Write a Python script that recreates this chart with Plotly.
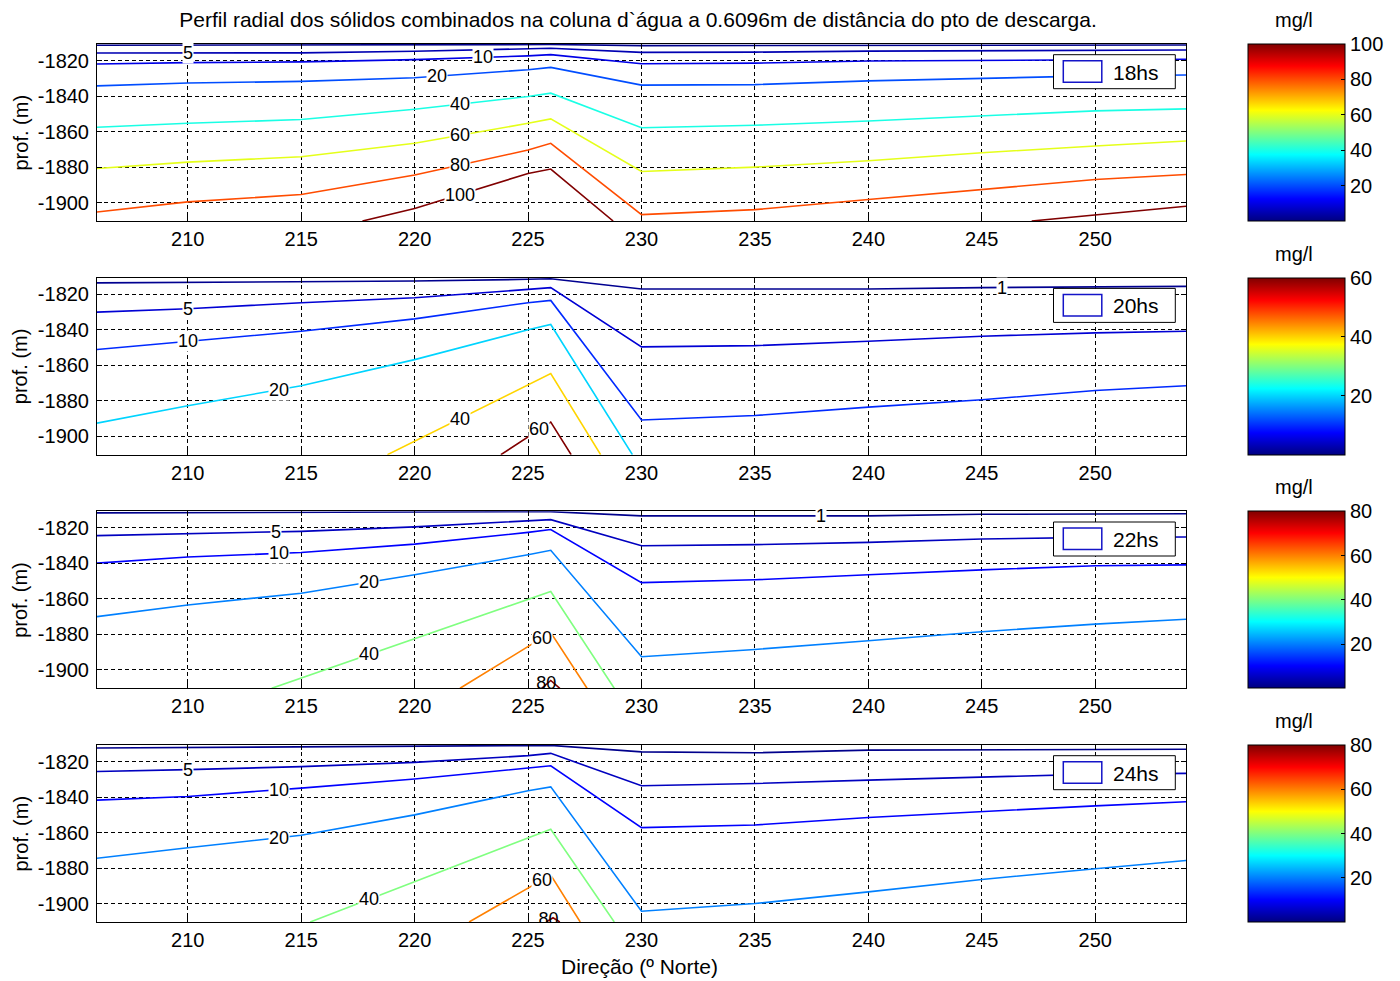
import plotly.graph_objects as go

W, H = 1400, 981
FONT = "Liberation Sans, Arial, sans-serif"
FS = 20
FS_LBL = 18
FS_TITLE = 21

# ---------------- data: depth (m) of each isoline (mg/l) vs direction (deg N) -------------
DIR = [206, 210, 215, 220, 225, 226, 230, 235, 240, 245, 250, 254]

# 18hs
H18_C1 = [-1811.3, -1811.2, -1811.1, -1811.0, -1810.9, -1810.9, -1811.5, -1811.5, -1811.4, -1811.3, -1811.2, -1811.2]
H18_C5 = [-1815.7, -1815.7, -1815.6, -1814.7, -1813.4, -1813.0, -1815.3, -1815.2, -1814.6, -1814.3, -1814.1, -1814.0]
H18_C10 = [-1821.9, -1821.1, -1820.7, -1819.4, -1817.3, -1816.6, -1821.7, -1821.4, -1820.2, -1819.9, -1819.6, -1819.2]
H18_C20 = [-1834.2, -1832.6, -1831.7, -1829.6, -1825.1, -1823.8, -1833.8, -1833.5, -1831.4, -1829.9, -1828.6, -1828.1]
H18_C40 = [-1857.5, -1855.3, -1853.2, -1847.4, -1840.2, -1838.3, -1857.8, -1856.4, -1854.0, -1851.1, -1848.3, -1847.2]
H18_C60 = [-1880.8, -1877.2, -1874.2, -1866.6, -1855.3, -1852.8, -1882.5, -1880.0, -1876.4, -1871.9, -1868.1, -1865.3]
H18_C80 = [-1905.3, -1899.6, -1895.5, -1884.5, -1870.4, -1866.6, -1906.8, -1904.0, -1898.3, -1892.6, -1887.0, -1884.2]
H18_C100_X = [217.7, 220, 225, 226, 228.75, None, 247.2, 254]
H18_C100 = [-1910.4, -1903.4, -1883.6, -1881.1, -1910.4, None, -1910.4, -1902.1]

# 20hs
H20_C1 = [-1813.5, -1813.3, -1813.0, -1812.5, -1811.5, -1811.2, -1817.0, -1817.0, -1817.0, -1816.2, -1815.8, -1815.5]
H20_C5 = [-1830.0, -1828.1, -1824.7, -1821.9, -1817.2, -1816.2, -1849.6, -1848.9, -1846.4, -1843.6, -1841.7, -1840.8]
H20_C10 = [-1851.1, -1846.4, -1840.8, -1833.8, -1824.7, -1823.4, -1890.8, -1888.3, -1883.6, -1879.4, -1874.2, -1871.5]
H20_C20_X = [206, 210, 215, 220, 225, 226, 229.6]
H20_C20 = [-1892.6, -1882.8, -1871.5, -1856.8, -1840.0, -1837.0, -1910.4]
H20_C40_X = [218.8, 226, 228.2]
H20_C40 = [-1910.4, -1864.7, -1910.4]
H20_C60_X = [223.8, 226, 226.9]
H20_C60 = [-1910.4, -1892.0, -1910.4]

# 22hs
H22_C1 = [-1811.5, -1811.3, -1811.0, -1810.9, -1810.8, -1810.8, -1813.2, -1813.2, -1813.2, -1812.3, -1812.1, -1812.0]
H22_C5 = [-1824.3, -1823.2, -1821.9, -1819.4, -1816.2, -1815.3, -1830.0, -1829.4, -1828.1, -1826.2, -1825.3, -1825.1]
H22_C10 = [-1839.8, -1836.4, -1833.8, -1829.1, -1822.5, -1820.9, -1850.8, -1849.2, -1846.4, -1843.6, -1841.3, -1840.8]
H22_C20 = [-1870.0, -1863.4, -1856.8, -1846.4, -1835.1, -1832.6, -1892.6, -1888.5, -1883.6, -1878.5, -1874.2, -1871.5]
H22_C40_X = [213.7, 226, 228.8]
H22_C40 = [-1910.4, -1855.8, -1910.4]
H22_C60_X = [222.0, 226, 227.6]
H22_C60 = [-1910.4, -1879.0, -1910.4]
H22_C80_X = [225.6, 226.0, 226.4]
H22_C80 = [-1910.4, -1906.0, -1910.4]

# 24hs
H24_C1 = [-1812.3, -1812.0, -1811.5, -1811.0, -1810.8, -1810.8, -1814.5, -1815.0, -1813.5, -1813.2, -1813.0, -1813.0]
H24_C5 = [-1825.5, -1824.5, -1822.8, -1820.4, -1816.6, -1815.3, -1833.6, -1832.3, -1830.4, -1828.5, -1827.0, -1826.6]
H24_C10 = [-1841.7, -1839.6, -1834.9, -1829.8, -1823.6, -1822.3, -1857.2, -1855.7, -1851.5, -1848.1, -1844.9, -1842.6]
H24_C20 = [-1874.5, -1868.5, -1861.5, -1850.0, -1836.4, -1834.2, -1904.3, -1900.0, -1893.4, -1886.4, -1880.4, -1875.7]
H24_C40_X = [215.4, 226, 228.8]
H24_C40 = [-1910.4, -1858.1, -1910.4]
H24_C60_X = [222.4, 226, 227.3]
H24_C60 = [-1910.4, -1884.0, -1910.4]
H24_C80_X = [225.8, 226.1, 226.4]
H24_C80 = [-1910.4, -1908.0, -1910.4]

HOURS = ["18hs", "20hs", "22hs", "24hs"]
CMAX = [100, 60, 80, 80]
X_TICKS = [210, 215, 220, 225, 230, 235, 240, 245, 250]
Y_TICKS = [-1820, -1840, -1860, -1880, -1900]
Y_TICKTEXT = ["-1820", "-1840", "-1860", "-1880", "-1900"]

LINES = [
    [(1, DIR, H18_C1), (5, DIR, H18_C5), (10, DIR, H18_C10), (20, DIR, H18_C20),
     (40, DIR, H18_C40), (60, DIR, H18_C60), (80, DIR, H18_C80), (100, H18_C100_X, H18_C100)],
    [(1, DIR, H20_C1), (5, DIR, H20_C5), (10, DIR, H20_C10), (20, H20_C20_X, H20_C20),
     (40, H20_C40_X, H20_C40), (60, H20_C60_X, H20_C60)],
    [(1, DIR, H22_C1), (5, DIR, H22_C5), (10, DIR, H22_C10), (20, DIR, H22_C20),
     (40, H22_C40_X, H22_C40), (60, H22_C60_X, H22_C60), (80, H22_C80_X, H22_C80)],
    [(1, DIR, H24_C1), (5, DIR, H24_C5), (10, DIR, H24_C10), (20, DIR, H24_C20),
     (40, H24_C40_X, H24_C40), (60, H24_C60_X, H24_C60), (80, H24_C80_X, H24_C80)],
]

# label placement (direction where each inline label sits)
LABELS = [
    [(5, 210.0), (10, 223.0), (20, 221.0), (40, 222.0), (60, 222.0), (80, 222.0), (100, 222.0)],
    [(1, 245.9), (5, 210.0), (10, 210.0), (20, 214.0), (40, 222.0), (60, 225.5)],
    [(1, 237.9), (5, 213.9), (10, 214.0), (20, 218.0), (40, 218.0), (60, 225.6)],
    [(5, 210.0), (10, 214.0), (20, 214.0), (40, 218.0), (60, 225.6)],
]
CLIPPED_LABELS = [[], [], [(80, 225.8)], [(80, 225.9)]]

# ---------------- layout geometry (pixels) ----------------
PLOT_X0, PLOT_X1 = 97, 1186
PANEL_TOP = [44, 277.7, 511.3, 745]
PANEL_H = 177
Y_RANGE = [-1910.4, -1810.6]
X_RANGE = [206, 254]
CB_X0, CB_W = 1248, 97

JET = [[0, "rgb(0,0,128)"], [0.125, "rgb(0,0,255)"], [0.375, "rgb(0,255,255)"],
       [0.625, "rgb(255,255,0)"], [0.875, "rgb(255,0,0)"], [1, "rgb(128,0,0)"]]


def jet(t):
    c = lambda v: max(0.0, min(1.0, v))
    r = c(1.5 - abs(4 * t - 3)); g = c(1.5 - abs(4 * t - 2)); b = c(1.5 - abs(4 * t - 1))
    return "rgb(%d,%d,%d)" % (round(r * 255), round(g * 255), round(b * 255))


def y_on(xs, zs, xq):
    for i in range(len(xs) - 1):
        a, b = xs[i], xs[i + 1]
        if a is None or b is None:
            continue
        if a <= xq <= b:
            f = (xq - a) / (b - a) if b != a else 0
            return zs[i] + f * (zs[i + 1] - zs[i])
    return None


def px(x):
    return x / W


def py(y):
    return 1 - y / H


fig = go.Figure()
annotations = []
shapes = []
layout = {}

for p in range(4):
    s = "" if p == 0 else str(p + 1)
    xa, ya = "x" + s, "y" + s
    top = PANEL_TOP[p]
    cmax = CMAX[p]
    for (lev, xs, zs) in LINES[p]:
        fig.add_trace(go.Scatter(x=xs, y=zs, mode="lines", xaxis=xa, yaxis=ya,
                                 line=dict(color=jet(lev / cmax), width=1.6),
                                 hoverinfo="skip", showlegend=False))
    lines_by_level = {lev: (xs, zs) for (lev, xs, zs) in LINES[p]}
    for (lev, xq) in LABELS[p]:
        xs, zs = lines_by_level[lev]
        annotations.append(dict(x=xq, y=y_on(xs, zs, xq), xref=xa, yref=ya, text=str(lev),
                                showarrow=False, bgcolor="white", borderpad=0,
                                font=dict(family=FONT, size=FS_LBL, color="black")))
    for (lev, xq) in CLIPPED_LABELS[p]:
        xs, zs = lines_by_level[lev]
        fig.add_trace(go.Scatter(x=[xq], y=[y_on(xs, zs, xq)], mode="text", text=[str(lev)],
                                 textfont=dict(family=FONT, size=FS_LBL, color="black"),
                                 cliponaxis=True, xaxis=xa, yaxis=ya,
                                 hoverinfo="skip", showlegend=False))
    # colour bar
    cb_ticks = [v for v in (20, 40, 60, 80, 100) if v <= cmax]
    fig.add_trace(go.Scatter(
        x=[230, 230], y=[-1850, -1850], mode="markers", xaxis=xa, yaxis=ya,
        marker=dict(color=[0, cmax], cmin=0, cmax=cmax, colorscale=JET, opacity=0, size=1,
                    showscale=True,
                    colorbar=dict(x=px(CB_X0), xanchor="left", xpad=0,
                                  y=py(top + PANEL_H / 2), yanchor="middle", ypad=0,
                                  len=PANEL_H / H, lenmode="fraction",
                                  thickness=CB_W, thicknessmode="pixels",
                                  outlinecolor="black", outlinewidth=1,
                                  tickvals=cb_ticks, ticks="inside", ticklen=4,
                                  tickcolor="black",
                                  tickfont=dict(family=FONT, size=FS, color="black"))),
        hoverinfo="skip", showlegend=False))
    annotations.append(dict(x=px(CB_X0 + CB_W / 2 - 3), y=py(top - 24), xref="paper", yref="paper",
                            text="mg/l", showarrow=False, xanchor="center", yanchor="middle",
                            font=dict(family=FONT, size=FS, color="black")))
    # legend box
    shapes.append(dict(type="rect", xref="paper", yref="paper",
                       x0=px(1053.5), x1=px(1175.3), y0=py(top + 44.7), y1=py(top + 10.7),
                       line=dict(color="black", width=1), fillcolor="white"))
    shapes.append(dict(type="rect", xref="paper", yref="paper",
                       x0=px(1063.3), x1=px(1101.8), y0=py(top + 38.3), y1=py(top + 16.7),
                       line=dict(color="rgb(20,20,200)", width=1.5), fillcolor="white"))
    annotations.append(dict(x=px(1111), y=py(top + 28), xref="paper", yref="paper",
                            text=HOURS[p], showarrow=False, xanchor="left", yanchor="middle",
                            font=dict(family=FONT, size=FS + 1, color="black")))
    # y title
    annotations.append(dict(x=px(20), y=py(top + PANEL_H / 2), xref="paper", yref="paper",
                            text="prof. (m)", textangle=-90, showarrow=False,
                            xanchor="center", yanchor="middle",
                            font=dict(family=FONT, size=FS, color="black")))

    axis_common = dict(showgrid=True, gridcolor="black", gridwidth=1, griddash="4px,3px",
                       showline=True, linecolor="black", linewidth=1, mirror="ticks",
                       ticks="inside", ticklen=5, tickcolor="black", zeroline=False,
                       automargin=False,
                       tickfont=dict(family=FONT, size=FS, color="black"))
    layout["xaxis" + s] = dict(domain=[px(PLOT_X0), px(PLOT_X1)], range=X_RANGE, anchor=ya,
                               tickvals=X_TICKS, ticklabelstandoff=0, **axis_common)
    layout["yaxis" + s] = dict(domain=[py(top + PANEL_H), py(top)], range=Y_RANGE, anchor=xa,
                               tickvals=Y_TICKS, ticktext=Y_TICKTEXT, ticklabelstandoff=3,
                               **axis_common)

annotations.append(dict(x=px(639), y=py(966), xref="paper", yref="paper",
                        text="Direção (º Norte)", showarrow=False, xanchor="center", yanchor="middle",
                        font=dict(family=FONT, size=FS + 1, color="black")))

fig.update_layout(
    width=W, height=H, margin=dict(l=0, r=0, t=0, b=0),
    paper_bgcolor="white", plot_bgcolor="white", showlegend=False,
    title=dict(text="Perfil radial dos sólidos combinados na coluna d`água a 0.6096m de distância do pto de descarga.",
               x=px(638), y=py(20), xanchor="center", yanchor="middle", xref="paper", yref="container",
               font=dict(family=FONT, size=FS_TITLE, color="black")),
    annotations=annotations, shapes=shapes, **layout)

fig.write_html("out.html")
